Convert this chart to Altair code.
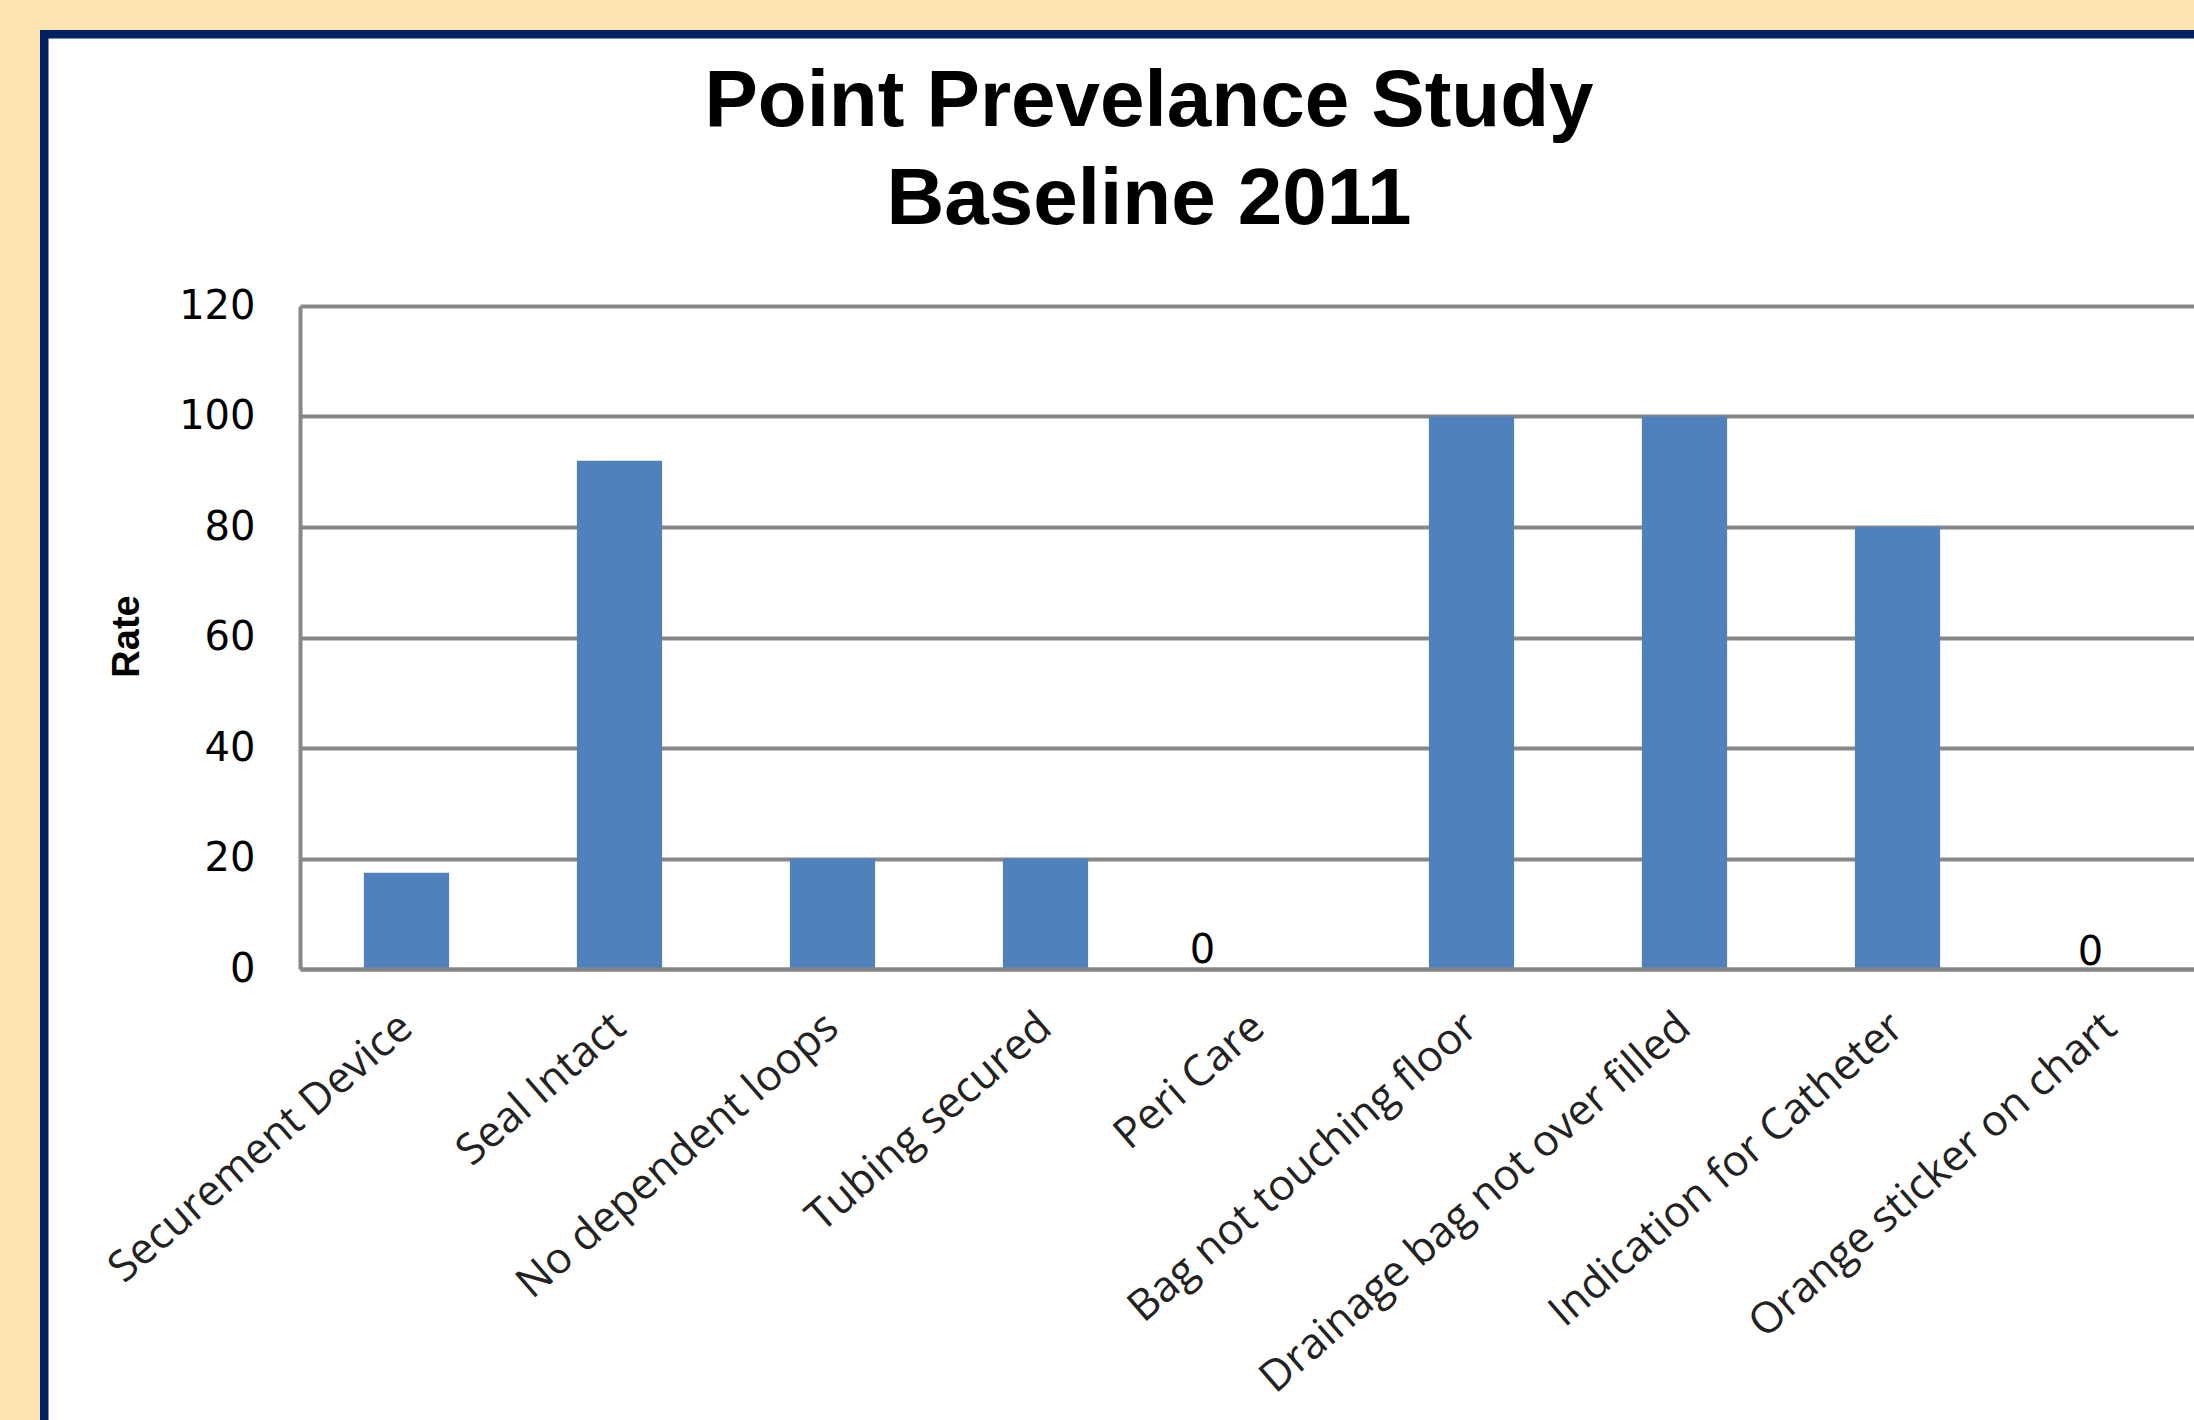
import altair as alt
import pandas as pd

categories = [
    "Securement Device",
    "Seal Intact",
    "No dependent loops",
    "Tubing secured",
    "Peri Care",
    "Bag not touching floor",
    "Drainage bag not over filled",
    "Indication for Catheter",
    "Orange sticker on chart",
]
rates = [17.4, 92, 20, 20, 0, 100, 100, 80, 0]
y_ticks = [0, 20, 40, 60, 80, 100, 120]
title_lines = ["Point Prevelance Study", "Baseline 2011"]

df = pd.DataFrame({"Category": categories, "Rate": rates})

PL, PT = 300, 306          # plot origin on the page
W, H = 2194 - PL, 663      # plot area
PB = 1420 - PT - H

GRID = "#878787"
PEACH = "#FFE3B1"
NAVY = "#002060"
BAR = "#4F81BD"

x_enc = alt.X(
    "Category:N",
    sort=categories,
    scale=alt.Scale(range=[0, 1917], paddingInner=0.6, paddingOuter=0.3),
    axis=alt.Axis(
        title=None,
        ticks=False,
        domain=True,
        domainColor=GRID,
        domainWidth=4,
        labelAngle=-41,
        labelAlign="right",
        labelBaseline="middle",
        labelPadding=52,
        labelFont="Open Sans",
        labelFontSize=43,
        labelColor="#222222",
        labelLimit=2000,
        labelOverlap=False,
        zindex=1,
    ),
)
y_enc = alt.Y(
    "Rate:Q",
    scale=alt.Scale(domain=[0, 120], nice=False),
    axis=alt.Axis(
        values=y_ticks,
        grid=True,
        gridColor=GRID,
        gridWidth=4,
        domain=True,
        domainColor=GRID,
        domainWidth=4,
        ticks=False,
        labelFont="DejaVu Sans",
        labelFontSize=40,
        labelColor="#000000",
        labelPadding=45,
        title="Rate",
        titleFont="Liberation Sans",
        titleFontWeight="bold",
        titleFontSize=38,
        titleColor="#000000",
        titleAngle=270,
        titleX=127 - PL,
        titleY=636 - PT,
        titleAlign="center",
        titleBaseline="middle",
    ),
)

bars = alt.Chart(df).mark_bar(color=BAR).encode(x=x_enc, y=y_enc)

zero_peri = (
    alt.Chart(df)
    .transform_filter(alt.datum.Category == "Peri Care")
    .mark_text(font="DejaVu Sans", fontSize=40, color="#000000", baseline="alphabetic", dy=-6, dx=-56)
    .encode(x=alt.X("Category:N", sort=categories), y="Rate:Q", text=alt.Text("Rate:Q", format="d"))
)
zero_orange = (
    alt.Chart(df)
    .transform_filter(alt.datum.Category == "Orange sticker on chart")
    .mark_text(font="DejaVu Sans", fontSize=40, color="#000000", baseline="alphabetic", dy=-4, dx=-20)
    .encode(x=alt.X("Category:N", sort=categories), y="Rate:Q", text=alt.Text("Rate:Q", format="d"))
)

one = alt.Data(values=[{"k": 0}])


def deco(x1, x2, y1, y2, color):
    return alt.Chart(one).mark_rect(color=color).encode(
        x=alt.value(x1 - PL), x2=alt.value(x2 - PL), y=alt.value(y1 - PT), y2=alt.value(y2 - PT)
    )


frame = [
    deco(0, 40, 0, 1420, PEACH),
    deco(0, 2194, 0, 30, PEACH),
    deco(40, 48.5, 30, 1420, NAVY),
    deco(40, 2194, 30, 38.5, NAVY),
]

chart = (
    alt.layer(bars, zero_peri, zero_orange, *frame)
    .properties(
        width=W,
        height=H,
        padding={"left": PL, "top": PT, "right": 0, "bottom": PB},
        autosize=alt.AutoSizeParams(type="none"),
        background="white",
        title=alt.TitleParams(
            text=title_lines,
            font="Liberation Sans",
            fontSize=80,
            fontWeight="bold",
            color="#000000",
            anchor="middle",
            frame="group",
            baseline="alphabetic",
            dx=1149 - (PL + W / 2),
            dy=304,
            lineHeight=98,
            offset=0,
        ),
    )
    .configure_view(strokeWidth=0)
)

chart.save("out.html", embed_options={"renderer": "svg", "actions": False})
